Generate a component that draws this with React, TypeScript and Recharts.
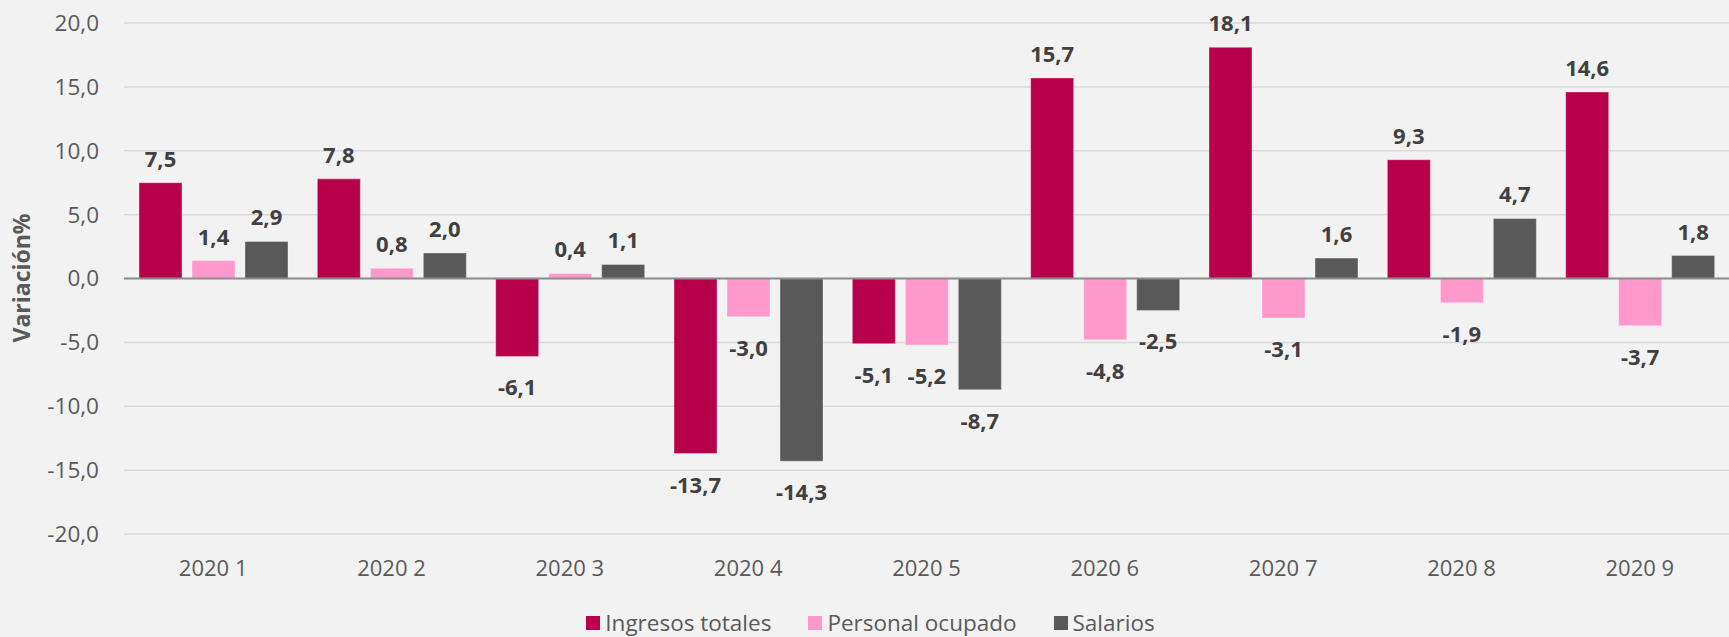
import React from "react";
import {
  BarChart,
  Bar,
  XAxis,
  YAxis,
  CartesianGrid,
  Legend,
  LabelList,
  ReferenceLine,
} from "recharts";

const periods = ["2020 1", "2020 2", "2020 3", "2020 4", "2020 5", "2020 6", "2020 7", "2020 8", "2020 9"];
const ingresos = [7.5, 7.8, -6.1, -13.7, -5.1, 15.7, 18.1, 9.3, 14.6];
const personal = [1.4, 0.8, 0.4, -3.0, -5.2, -4.8, -3.1, -1.9, -3.7];
const salarios = [2.9, 2.0, 1.1, -14.3, -8.7, -2.5, 1.6, 4.7, 1.8];
const yTicks = [-20, -15, -10, -5, 0, 5, 10, 15, 20];

const series = [
  { key: "ingresos", name: "Ingresos totales", color: "#B8004A" },
  { key: "personal", name: "Personal ocupado", color: "#FF99CC" },
  { key: "salarios", name: "Salarios", color: "#595959" },
];

const data = periods.map((p, i) => ({
  period: p,
  ingresos: ingresos[i],
  personal: personal[i],
  salarios: salarios[i],
}));

const FONT = "'Open Sans', 'Noto Sans', sans-serif";
const fmt = (v: number) => v.toFixed(1).replace(".", ",");

function ValueLabel(props: any) {
  const { x, y, width, height, value } = props;
  const v = Number(value);
  const cx = x + width / 2;
  const top = Math.min(y, y + height);
  const bottom = Math.max(y, y + height);
  const ty = v >= 0 ? top - 16 : bottom + 39;
  return (
    <text
      x={cx}
      y={ty}
      textAnchor="middle"
      fontFamily={FONT}
      fontSize={22}
      fontWeight={700}
      fill="#404040"
    >
      {fmt(v)}
    </text>
  );
}

function LegendContent() {
  return (
    <div
      style={{
        display: "flex",
        justifyContent: "center",
        gap: 37,
        fontFamily: FONT,
        fontSize: 22.5,
        lineHeight: "28px",
        color: "#595959",
        paddingTop: 15,
        marginLeft: 12,
      }}
    >
      {series.map((s) => (
        <div key={s.key} style={{ display: "flex", alignItems: "center" }}>
          <span
            style={{
              display: "inline-block",
              width: 14,
              height: 14,
              background: s.color,
              marginRight: 5,
            }}
          />
          <span>{s.name}</span>
        </div>
      ))}
    </div>
  );
}

export default function App() {
  return (
    <div
      style={{
        position: "absolute",
        left: 0,
        top: 0,
        width: 1729,
        height: 637,
        background: "#F2F2F2",
      }}
    >
      <BarChart
        width={1729}
        height={637}
        data={data}
        margin={{ top: 23, right: 0, bottom: 0, left: 0 }}
        barGap={10}
        barSize={43}
      >
        <CartesianGrid vertical={false} stroke="#D9D9D9" strokeWidth={1.5} />
        <XAxis
          dataKey="period"
          axisLine={false}
          tickLine={false}
          tickSize={0}
          tickMargin={26}
          height={60}
          tick={{ fontSize: 22, fill: "#595959", fontFamily: FONT }}
        />
        <YAxis
          width={124}
          domain={[-20, 20]}
          ticks={yTicks}
          axisLine={false}
          tickLine={false}
          tickSize={0}
          tickMargin={25}
          tickFormatter={fmt}
          tick={{ fontSize: 22.5, fill: "#595959", fontFamily: FONT }}
        />
        <Legend verticalAlign="bottom" height={43} content={<LegendContent />} />
        {series.map((s) => (
          <Bar
            key={s.key}
            dataKey={s.key}
            name={s.name}
            fill={s.color}
            stroke="#ffffff"
            strokeOpacity={0.35}
            strokeWidth={1}
            isAnimationActive={false}
          >
            <LabelList dataKey={s.key} content={<ValueLabel />} />
          </Bar>
        ))}
        <ReferenceLine y={0} stroke="#8C8C8C" strokeWidth={2} />
      </BarChart>
      <div
        style={{
          position: "absolute",
          left: 21,
          top: 278,
          transform: "translate(-50%, -50%) rotate(-90deg)",
          fontFamily: FONT,
          fontSize: 23,
          fontWeight: 700,
          color: "#595959",
          whiteSpace: "nowrap",
        }}
      >
        Variación%
      </div>
    </div>
  );
}
